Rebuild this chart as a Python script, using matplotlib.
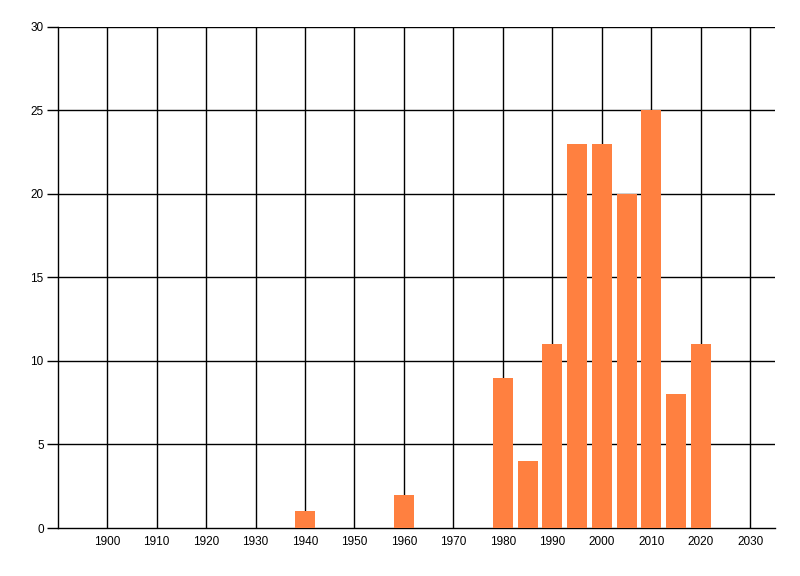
import matplotlib
matplotlib.use("Agg")
import matplotlib.pyplot as plt

# ── data ─────────────────────────────────────────
years = [1940, 1960, 1980, 1985, 1990, 1995, 2000, 2005, 2010, 2015, 2020]
counts = [1, 2, 9, 4, 11, 23, 23, 20, 25, 8, 11]
x_ticks = [1900, 1910, 1920, 1930, 1940, 1950, 1960, 1970, 1980, 1990, 2000, 2010, 2020, 2030]
y_ticks = [0, 5, 10, 15, 20, 25, 30]

plt.rcParams['font.family'] = ['Liberation Sans', 'DejaVu Sans']

fig = plt.figure(figsize=(8, 5.76), dpi=100)
ax = fig.add_axes([0.0719, 0.0833, 0.969 - 0.0719, 0.9537 - 0.0833])

ax.bar(years, counts, width=4.05, color="#FF8040", zorder=3)

ax.set_xlim(1890, 2035)
ax.set_ylim(0, 30)
ax.set_xticks(x_ticks)
ax.set_yticks(y_ticks)

# grid: vertical lines at decades, horizontal at every 5
for x in x_ticks:
    ax.axvline(x, color="black", linewidth=1.0, zorder=1)
for y in y_ticks[1:]:
    ax.axhline(y, color="black", linewidth=1.0, zorder=1)

ax.spines["top"].set_visible(False)
ax.spines["right"].set_visible(False)
ax.spines["left"].set_linewidth(1.0)
ax.spines["bottom"].set_linewidth(1.0)

ax.tick_params(axis="x", length=0, pad=6, labelsize=8.5)
ax.tick_params(axis="y", length=8, width=1.0, pad=2, labelsize=8.5)

plt.savefig("out.png", dpi=100)
plt.close()
